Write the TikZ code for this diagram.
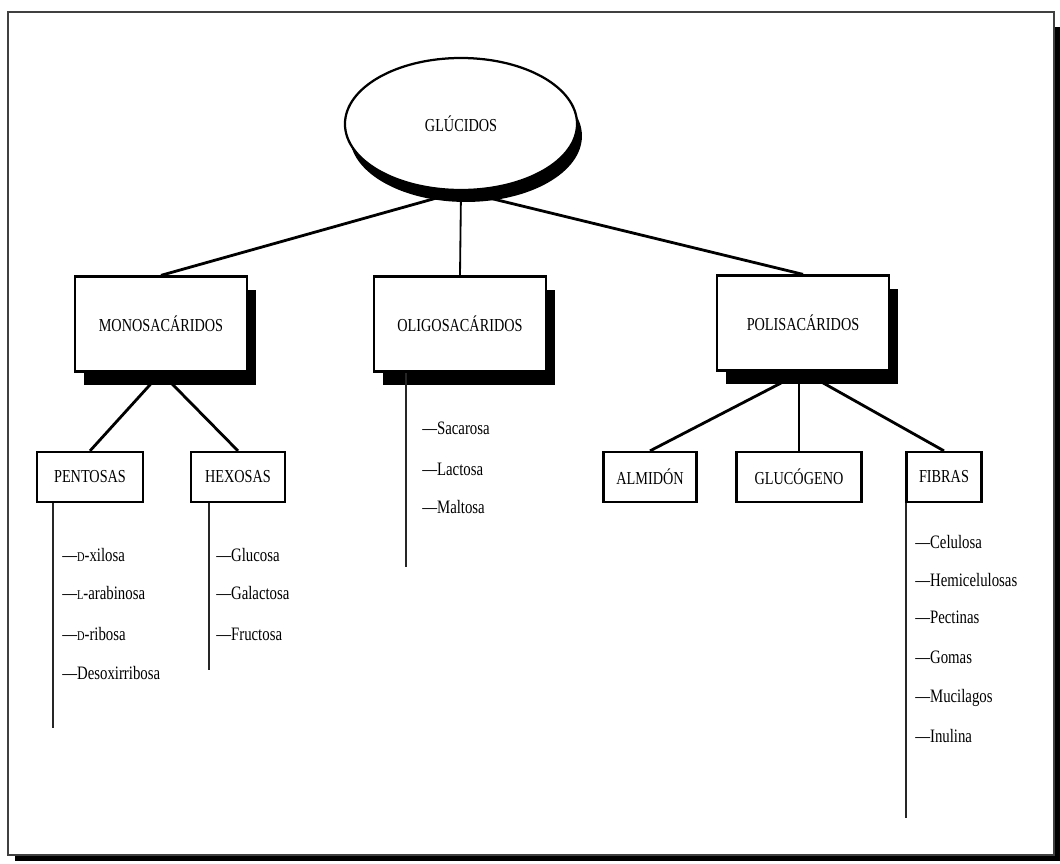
\documentclass[tikz,border=0pt]{standalone}
\usepackage{fontspec}
\setmainfont[FakeStretch=0.78]{Liberation Serif}
\usetikzlibrary{shapes.geometric,shadows}
\newcommand{\sminit}[1]{{\fontsize{9.5}{10}\selectfont #1}}

\begin{document}
\begin{tikzpicture}[x=0.025cm, y=-0.025cm, font=\fontsize{13}{15}\selectfont,
    bigbox/.style={draw, line width=1.6pt, fill=white, minimum width=4.3cm, minimum height=2.375cm,
      drop shadow={shadow xshift=6.4pt, shadow yshift=-9.9pt, fill=black, opacity=1}},
    smallbox/.style={draw, line width=1.6pt, fill=white, minimum height=1.25cm},
    leaf/.style={anchor=west, inner sep=0pt, font=\fontsize{13.5}{15}\selectfont},
    branchline/.style={line width=2pt},
    stemline/.style={line width=1.2pt, black!85}]
          \useasboundingbox (0,0) rectangle (1060,863);
          \fill (15,27) rectangle (1060,861);
          \draw[line width=1.2pt, black!75, fill=white] (8,12) rectangle (1054,855);
          \node[draw, ellipse, line width=1.6pt, fill=white, minimum width=5.8cm, minimum height=3.3cm,
            drop shadow={shadow xshift=3.5pt, shadow yshift=-8.5pt, fill=black, opacity=1}] (1) at (461,124) {GLÚCIDOS};
          \node[bigbox] (2) at (161,324) {MONOSACÁRIDOS};
          \node[bigbox] (3) at (460,324) {OLIGOSACÁRIDOS};
          \node[bigbox] (4) at (803,323) {POLISACÁRIDOS};
          \node[smallbox, minimum width=2.65cm] (5) at (90,477) {PENTOSAS};
          \node[smallbox, minimum width=2.35cm] (6) at (238,477) {HEXOSAS};
          \node[smallbox, minimum width=2.325cm] (7) at (650,477) {ALMIDÓN};
          \node[smallbox, minimum width=3.125cm] (8) at (799,477) {GLUCÓGENO};
          \node[smallbox, minimum width=1.875cm] (9) at (944,477) {FIBRAS};
          \draw[branchline] (1.south) -- (2.north);
          \draw[line width=1.3pt] (1.south) -- (3.north);
          \draw[branchline] (1.south) -- (4.north);
          \draw[branchline] (2.south) -- (5.north);
          \draw[branchline] (2.south) -- (6.north);
          \draw[branchline] (4.south) -- (7.north);
          \draw[line width=1.3pt] (8.north) -- (8.north |- 4.south);
          \draw[branchline] (4.south) -- (9.north);
          % listas
          \coordinate (5e) at (53,728);
          \coordinate (6e) at (209,670);
          \coordinate (3e) at (406,567);
          \coordinate (9e) at (906,818);
          \draw[stemline] (5e |- 5.south) -- (5e);
          \draw[stemline] (6e |- 6.south) -- (6e);
          \draw[stemline] (3e |- 3.south) -- (3e);
          \draw[stemline] (9e |- 9.south) -- (9e);
          \node[leaf] (p1) at (62,555) {—\sminit{D}-xilosa};
          \node[leaf] (p2) at (62,593) {—\sminit{L}-arabinosa};
          \node[leaf] (p3) at (62,634) {—\sminit{D}-ribosa};
          \node[leaf] (p4) at (62,673) {—Desoxirribosa};
          \node[leaf] (h1) at (216,555) {—Glucosa};
          \node[leaf] (h2) at (216,593) {—Galactosa};
          \node[leaf] (h3) at (216,634) {—Fructosa};
          \node[leaf] (o1) at (422,428) {—Sacarosa};
          \node[leaf] (o2) at (422,469) {—Lactosa};
          \node[leaf] (o3) at (422,507) {—Maltosa};
          \node[leaf] (f1) at (915,542) {—Celulosa};
          \node[leaf] (f2) at (915,580) {—Hemicelulosas};
          \node[leaf] (f3) at (915,617) {—Pectinas};
          \node[leaf] (f4) at (915,657) {—Gomas};
          \node[leaf] (f5) at (915,698) {—Mucilagos};
          \node[leaf] (f6) at (915,736) {—Inulina};
        \end{tikzpicture}
\end{document}
